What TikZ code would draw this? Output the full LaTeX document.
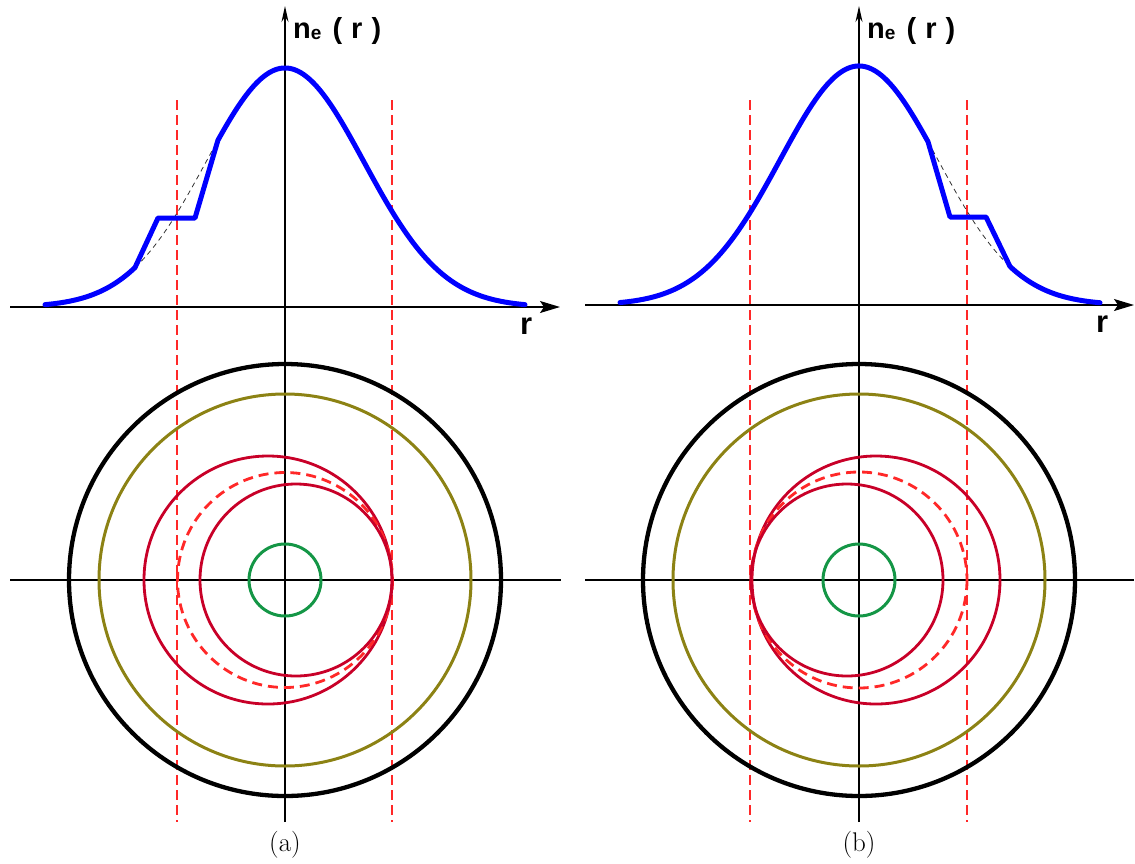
\documentclass[tikz,border=0pt]{standalone}
\usepackage{fontspec}
\newfontfamily\labfont{Liberation Sans}
\usetikzlibrary{arrows.meta}
\definecolor{profblue}{RGB}{0,0,255}
\definecolor{guidered}{RGB}{255,40,40}
\definecolor{ringred}{RGB}{200,0,40}
\definecolor{ringolive}{RGB}{140,130,20}
\definecolor{ringgreen}{RGB}{20,150,70}
\begin{document}
\begin{tikzpicture}[x=1pt,y=-1pt,
  axisline/.style={line width=1.3pt,black},
  vaxis/.style={axisline,-{Stealth[length=16pt,width=7pt]}},
  haxis/.style={axisline,-{Stealth[length=20pt,width=12pt,inset=4pt]}},
  profile/.style={line width=5pt,profblue,line join=round,line cap=round},
  ideal/.style={line width=0.8pt,black!80,dash pattern=on 5pt off 4pt},
  guide/.style={line width=1.3pt,guidered,dash pattern=on 10pt off 5pt},
  blackring/.style={line width=4.3pt,black},
  olivering/.style={line width=3pt,ringolive},
  redring/.style={line width=2.8pt,ringred},
  redringdash/.style={line width=2.8pt,guidered,dash pattern=on 10pt off 6pt},
  greenring/.style={line width=3pt,ringgreen},
  axlabel/.style={inner sep=0pt,anchor=base west,font=\labfont\bfseries\fontsize{29}{29}\selectfont},
  rlabel/.style={inner sep=0pt,anchor=base west,font=\labfont\bfseries\fontsize{31}{31}\selectfont},
  sublabel/.style={inner sep=0pt,font=\fontsize{27}{27}\selectfont}
]
\useasboundingbox (0,0) rectangle (1135,863);

% ---------------- panel (a) ----------------
\draw[guide] (177,100) -- (177,822);
\draw[guide] (392,100) -- (392,822);
\draw[haxis] (10,307) -- (560,307);
\draw[axisline] (10,580) -- (561,580);
\draw[vaxis] (285,822) -- (285,6);
\draw[ideal] plot[domain=135:218,samples=30] (\x,{307-239*exp(-((\x-285)/111.77)^2)});
\draw[profile] plot[domain=45:135,samples=40] (\x,{307-239*exp(-((\x-285)/111.77)^2)})
  -- (158,218) -- (195,218) -- (218,140)
  -- plot[domain=218:525,samples=120] (\x,{307-239*exp(-((\x-285)/111.77)^2)});
\node[axlabel] (nea) at (293,38) {n\raisebox{-1.5pt}{\fontsize{19}{19}\selectfont e}\hspace{3pt} (\hspace{1pt} r \hspace{1pt})};
\node[rlabel] (ra) at (520,334) {r};
\draw[blackring] (285,580) circle[radius=216];
\draw[olivering] (285,580) circle[radius=186];
\draw[redring] (268,580) circle[radius=124];
\draw[redringdash] (285,580) circle[radius=107.5];
\draw[redring] (296,580) circle[radius=96];
\draw[greenring] (285,580) circle[radius=36];
\node[sublabel] (capa) at (285,845) {(a)};

% ---------------- panel (b) ----------------
\draw[guide] (750,100) -- (750,822);
\draw[guide] (967,100) -- (967,822);
\draw[haxis] (585,305) -- (1134,305);
\draw[axisline] (585,580) -- (1134,580);
\draw[vaxis] (859,822) -- (859,6);
\draw[ideal] plot[domain=928:1010,samples=30] (\x,{305-239*exp(-((\x-859)/111.77)^2)});
\draw[profile] plot[domain=620:928,samples=120] (\x,{305-239*exp(-((\x-859)/111.77)^2)})
  -- (950,217) -- (986,217) -- (1010,266.5)
  -- plot[domain=1010:1100,samples=40] (\x,{305-239*exp(-((\x-859)/111.77)^2)});
\node[axlabel] (neb) at (867,38) {n\raisebox{-1.5pt}{\fontsize{19}{19}\selectfont e}\hspace{3pt} (\hspace{1pt} r \hspace{1pt})};
\node[rlabel] (rb) at (1096,332) {r};
\draw[blackring] (859,580) circle[radius=216];
\draw[olivering] (859,580) circle[radius=186];
\draw[redring] (876,580) circle[radius=124];
\draw[redringdash] (859,580) circle[radius=108];
\draw[redring] (847,580) circle[radius=96];
\draw[greenring] (859,580) circle[radius=36];
\node[sublabel] (capb) at (859,845) {(b)};
\end{tikzpicture}
\end{document}
